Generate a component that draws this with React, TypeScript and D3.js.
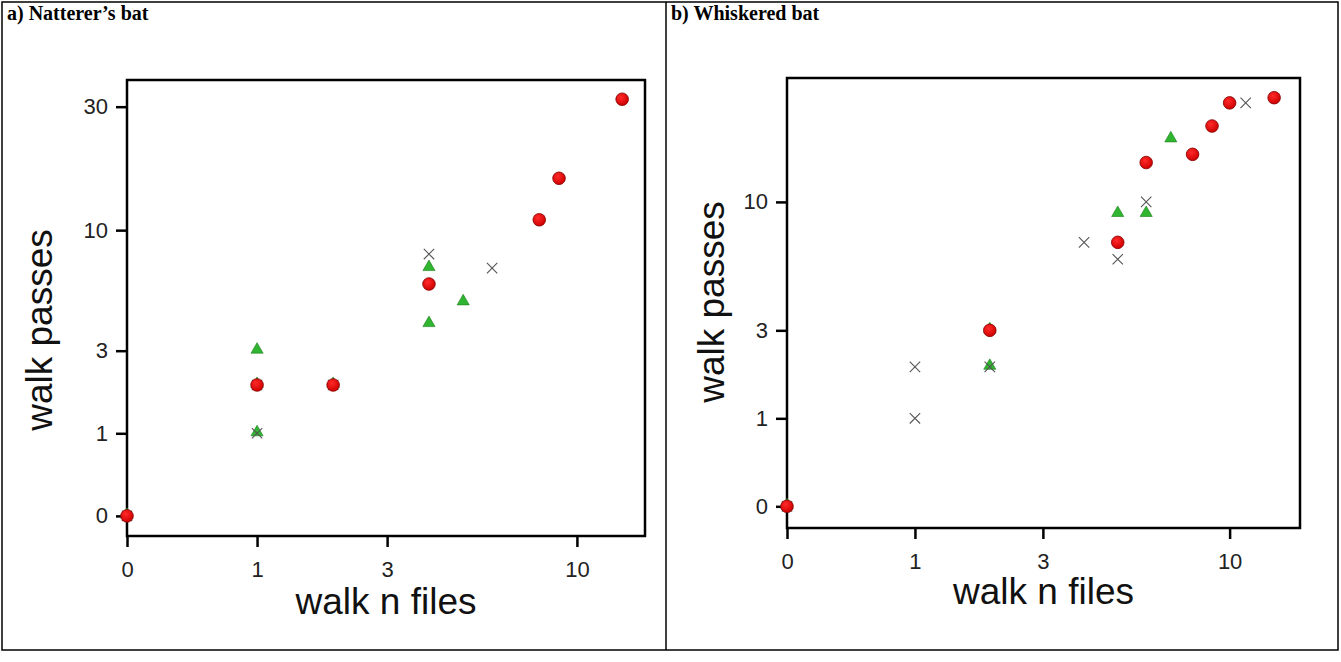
import React, { useEffect, useRef } from 'react';
import * as d3 from 'd3';

// values: [walk n files, walk passes]
const nattererCircles = [[0, 0], [1, 2], [2, 2], [4, 6], [8, 11], [9, 16], [13, 32]];
const nattererTriangles = [[0, 0], [1, 3], [1, 1], [1, 2], [2, 2], [4, 7], [4, 4], [5, 5]];
const nattererCrosses = [[0, 0], [1, 1], [1, 2], [2, 2], [4, 8], [6, 7]];

const whiskeredCircles = [[0, 0], [2, 3], [5, 7], [6, 14], [8, 15], [9, 19], [10, 23], [13, 24]];
const whiskeredTriangles = [[0, 0], [2, 3], [2, 2], [5, 9], [6, 9], [7, 17]];
const whiskeredCrosses = [[0, 0], [1, 2], [1, 1], [2, 2], [4, 7], [5, 6], [6, 10], [11, 23]];

const xTicksA = [0, 1, 3, 10];
const yTicksA = [0, 1, 3, 10, 30];
const xTicksB = [0, 1, 3, 10];
const yTicksB = [0, 1, 3, 10];

const W = 1341;
const H = 662;

const lg = (v: number) => Math.log10(v + 1);

function drawPanel(svg: any, cfg: any) {
  const { left, right, top, bottom, xMax, yMin, yMax, xTicks, yTicks, circles, triangles, crosses, yLabelX, yLabelY, xLabelY } = cfg;
  const x = d3.scaleLinear().domain([0, xMax]).range([left, right]);
  const y = d3.scaleLinear().domain([yMin, yMax]).range([bottom, top]);

  const g = svg.append('g');

  // frame
  g.append('rect')
    .attr('x', left)
    .attr('y', top)
    .attr('width', right - left)
    .attr('height', bottom - top)
    .attr('fill', 'none')
    .attr('stroke', '#000')
    .attr('stroke-width', 2.5);

  const xAxis = d3.axisBottom(x)
    .tickValues(xTicks.map(lg))
    .tickFormat((d: any, i: number) => String(xTicks[i]))
    .tickSize(11)
    .tickPadding(14);
  const gx = g.append('g').attr('transform', `translate(0,${bottom})`).call(xAxis);
  gx.select('.domain').remove();

  const yAxis = d3.axisLeft(y)
    .tickValues(yTicks.map(lg))
    .tickFormat((d: any, i: number) => String(yTicks[i]))
    .tickSize(11)
    .tickPadding(8);
  const gy = g.append('g').attr('transform', `translate(${left},0)`).call(yAxis);
  gy.select('.domain').remove();

  [gx, gy].forEach((a) => {
    a.selectAll('line').attr('stroke', '#000').attr('stroke-width', 2.5);
    a.selectAll('text')
      .attr('font-family', 'Liberation Sans, Arial, sans-serif')
      .attr('font-size', 22)
      .attr('fill', '#222');
  });

  // triangles
  const tri = d3.symbol().type(d3.symbolTriangle).size(64);
  g.append('g')
    .selectAll('path')
    .data(triangles)
    .enter()
    .append('path')
    .attr('d', tri)
    .attr('transform', (d: number[]) => `translate(${x(lg(d[0]))},${y(lg(d[1])) - 1})`)
    .attr('fill', '#2fb52f')
    .attr('stroke', '#1c7c1c')
    .attr('stroke-width', 0.6);

  // crosses
  const cross = d3.symbol().type(d3.symbolX).size(72);
  g.append('g')
    .selectAll('path')
    .data(crosses)
    .enter()
    .append('path')
    .attr('d', cross)
    .attr('transform', (d: number[]) => `translate(${x(lg(d[0]))},${y(lg(d[1]))})`)
    .attr('fill', 'none')
    .attr('stroke', '#555')
    .attr('stroke-width', 1.1);

  // circles
  g.append('g')
    .selectAll('circle')
    .data(circles)
    .enter()
    .append('circle')
    .attr('cx', (d: number[]) => x(lg(d[0])))
    .attr('cy', (d: number[]) => y(lg(d[1])))
    .attr('r', 6.3)
    .attr('fill', 'url(#redDot)')
    .attr('stroke', '#800000')
    .attr('stroke-width', 0.8);

  g.append('text')
    .attr('transform', `translate(${yLabelX},${yLabelY}) rotate(-90)`)
    .attr('text-anchor', 'middle')
    .attr('font-family', 'Liberation Sans, Arial, sans-serif')
    .attr('font-size', 37)
    .attr('fill', '#111')
    .text('walk passes');

  g.append('text')
    .attr('x', (left + right) / 2)
    .attr('y', xLabelY)
    .attr('text-anchor', 'middle')
    .attr('font-family', 'Liberation Sans, Arial, sans-serif')
    .attr('font-size', 37)
    .attr('fill', '#111')
    .text('walk n files');
}

function App() {
  const ref = useRef<SVGSVGElement>(null);

  useEffect(() => {
    const svg = d3.select(ref.current);
    svg.selectAll('*').remove();

    const defs = svg.append('defs');
    const grad = defs.append('radialGradient').attr('id', 'redDot').attr('cx', '40%').attr('cy', '35%').attr('r', '65%');
    grad.append('stop').attr('offset', '0%').attr('stop-color', '#ff2a2a');
    grad.append('stop').attr('offset', '100%').attr('stop-color', '#d00000');

    // table frame
    svg.append('rect').attr('x', 2).attr('y', 2).attr('width', W - 5).attr('height', 648)
      .attr('fill', 'none').attr('stroke', '#000').attr('stroke-width', 1.5);
    svg.append('line').attr('x1', 666).attr('x2', 666).attr('y1', 2).attr('y2', 650)
      .attr('stroke', '#000').attr('stroke-width', 1.5);

    svg.append('text').attr('x', 7).attr('y', 20)
      .attr('font-family', 'Liberation Serif, Times New Roman, serif')
      .attr('font-weight', 'bold').attr('font-size', 20)
      .text('a) Natterer\u2019s bat');
    svg.append('text').attr('x', 671).attr('y', 20)
      .attr('font-family', 'Liberation Serif, Times New Roman, serif')
      .attr('font-weight', 'bold').attr('font-size', 20)
      .text('b) Whiskered bat');

    drawPanel(svg, {
      left: 127, right: 645, top: 80, bottom: 536,
      xMax: 1.199, yMin: -0.0733, yMax: 1.5886,
      xTicks: xTicksA, yTicks: yTicksA,
      circles: nattererCircles, triangles: nattererTriangles, crosses: nattererCrosses,
      yLabelX: 52, yLabelY: 330, xLabelY: 614
    });

    drawPanel(svg, {
      left: 787, right: 1300, top: 78, bottom: 528,
      xMax: 1.207, yMin: -0.0742, yMax: 1.4653,
      xTicks: xTicksB, yTicks: yTicksB,
      circles: whiskeredCircles, triangles: whiskeredTriangles, crosses: whiskeredCrosses,
      yLabelX: 724, yLabelY: 302, xLabelY: 604
    });
  }, []);

  return (
    <svg ref={ref} width={W} height={H} style={{ position: 'absolute', left: 0, top: 0, background: '#fff' }} />
  );
}

export default App;
